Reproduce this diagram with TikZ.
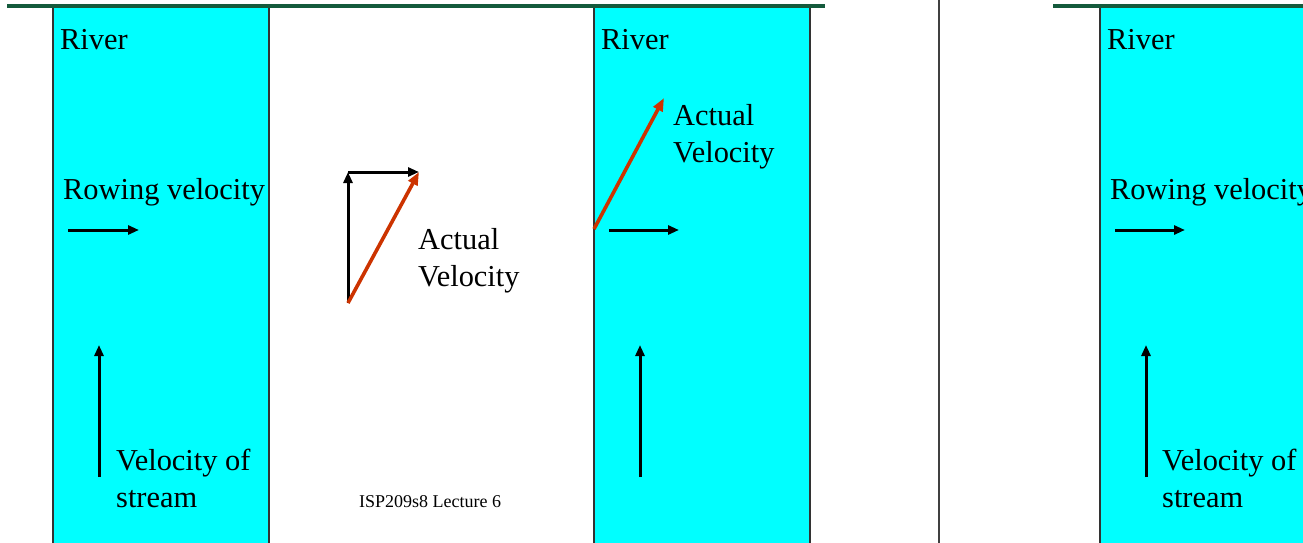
\documentclass[tikz,border=0pt]{standalone}
\usepackage{fontspec}
\setmainfont{Liberation Serif}
\usetikzlibrary{arrows.meta}
\definecolor{rivercyan}{RGB}{0,255,255}
\definecolor{slidegreen}{RGB}{20,90,60}
\definecolor{vecred}{RGB}{204,51,0}
\definecolor{sepgray}{RGB}{64,64,64}
\tikzset{
  river/.style={fill=rivercyan, draw=black!80, line width=2pt},
  big/.style={font=\fontsize{30.4}{37}\selectfont, anchor=base west, inner sep=0pt},
  small/.style={font=\fontsize{18}{22}\selectfont, anchor=base west, inner sep=0pt},
  vec/.style={line width=3pt, -{Triangle[length=11pt,width=9pt]}},
  redvec/.style={line width=3.6pt, draw=vecred, -{Triangle[length=13pt,width=10pt]}, color=vecred},
  topline/.style={draw=slidegreen, line width=3.5pt},
}
\begin{document}
\begin{tikzpicture}[x=1pt,y=-1pt]
\useasboundingbox (0,0) rectangle (1303,543);
\clip (0,0) rectangle (1303,543);
% river panels
\draw[river] (53,6) rectangle (269,548);
\draw[river] (594,6) rectangle (810,548);
\draw[river] (1100,6) rectangle (1320,548);
% slide lines
\draw[topline] (7,6) -- (825,6);
\draw[topline] (1053,6) -- (1310,6);
\draw[draw=sepgray, line width=2.5pt] (939,-2) -- (939,548);
% panel 1
\node[big] (river1) at (60,49) {River};
\node[big] (row1) at (63,199) {Rowing velocity};
\coordinate (r1a) at (68,230); \coordinate (r1b) at (139,230);
\draw[vec] (r1a) -- (r1b);
\coordinate (s1a) at (99,477); \coordinate (s1b) at (99,345);
\draw[vec] (s1a) -- (s1b);
\node[big] (vos1) at (116,470) {Velocity of};
\node[big] (str1) at (116,507) {stream};
% panel 2 (vector triangle)
\coordinate (o) at (348,303);
\coordinate (t) at (348,172);
\coordinate (e) at (419,172);
\draw[vec] (o) -- (t);
\draw[vec] (t) -- (e);
\draw[redvec] (o) -- (e);
\node[big] (act2) at (418,249) {Actual};
\node[big] (vel2) at (418,286) {Velocity};
\node[small] (foot) at (359,507) {ISP209s8 Lecture 6};
% panel 3
\node[big] (river3) at (601,49) {River};
\coordinate (a3o) at (594,229); \coordinate (a3e) at (664,98);
\draw[redvec] (a3o) -- (a3e);
\node[big] (act3) at (673,125) {Actual};
\node[big] (vel3) at (673,162) {Velocity};
\coordinate (r3a) at (609,230); \coordinate (r3b) at (679,230);
\draw[vec] (r3a) -- (r3b);
\coordinate (s3a) at (640,477); \coordinate (s3b) at (640,345);
\draw[vec] (s3a) -- (s3b);
% panel 4
\node[big] (river4) at (1107,49) {River};
\node[big] (row4) at (1110,199) {Rowing velocity};
\coordinate (r4a) at (1115,230); \coordinate (r4b) at (1185,230);
\draw[vec] (r4a) -- (r4b);
\coordinate (s4a) at (1146,477); \coordinate (s4b) at (1146,345);
\draw[vec] (s4a) -- (s4b);
\node[big] (vos4) at (1162,470) {Velocity of};
\node[big] (str4) at (1162,507) {stream};
\end{tikzpicture}
\end{document}
